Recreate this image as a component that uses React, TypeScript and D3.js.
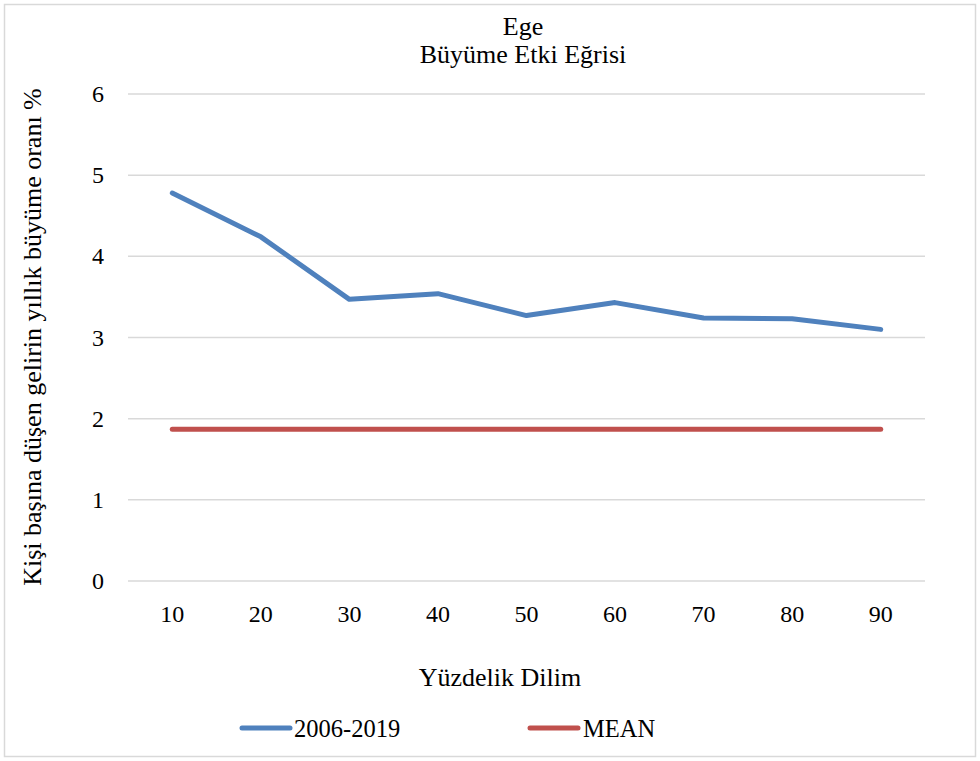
import * as d3 from 'd3';
import * as React from 'react';

const categories = ['10', '20', '30', '40', '50', '60', '70', '80', '90'];
const growthValues = [4.78, 4.24, 3.47, 3.54, 3.27, 3.43, 3.24, 3.23, 3.10];
const meanValues = [1.87, 1.87, 1.87, 1.87, 1.87, 1.87, 1.87, 1.87, 1.87];
const yTicks = [0, 1, 2, 3, 4, 5, 6];

const W = 980;
const H = 761;
const plot = { left: 128, right: 925, top: 94, bottom: 581 };
const font = 'Liberation Serif, Times New Roman, DejaVu Serif, serif';

export default function App() {
    const x = d3.scaleBand<string>()
        .domain(categories)
        .range([plot.left, plot.right]);
    const y = d3.scaleLinear()
        .domain([0, 6])
        .range([plot.bottom, plot.top]);

    const cx = (i: number) => (x(categories[i]) as number) + x.bandwidth() / 2;
    const line = d3.line<number>()
        .x((_, i) => cx(i))
        .y(d => y(d));

    return (
        <div style={{ position: 'absolute', left: 0, top: 0 }}>
            <svg width={W} height={H} style={{ display: 'block' }}>
                <rect x={4.5} y={4.5} width={W - 9} height={H - 9} fill="#fff" stroke="#d9d9d9" strokeWidth={1.5} />
                <text x={523} y={35} textAnchor="middle" fontSize={26} fontFamily={font} fill="#000">Ege</text>
                <text x={523} y={63} textAnchor="middle" fontSize={26} fontFamily={font} fill="#000">Büyüme Etki Eğrisi</text>

                {yTicks.map(t => (
                    <g key={t}>
                        <line x1={plot.left} x2={plot.right} y1={y(t)} y2={y(t)} stroke="#d9d9d9" strokeWidth={1.5} />
                        <text x={104} y={y(t) + 8} textAnchor="end" fontSize={24} fontFamily={font} fill="#000">{t}</text>
                    </g>
                ))}

                {categories.map((c, i) => (
                    <text key={c} x={cx(i)} y={622} textAnchor="middle" fontSize={24} fontFamily={font} fill="#000">{c}</text>
                ))}

                <path d={line(meanValues) || ''} fill="none" stroke="#c0504d" strokeWidth={5} strokeLinecap="round" strokeLinejoin="round" />
                <path d={line(growthValues) || ''} fill="none" stroke="#4f81bd" strokeWidth={5} strokeLinecap="round" strokeLinejoin="round" />

                <text x={500} y={686} textAnchor="middle" fontSize={26} fontFamily={font} fill="#000">Yüzdelik Dilim</text>
                <text transform="translate(41,337) rotate(-90)" textAnchor="middle" fontSize={26} fontFamily={font} fill="#000">
                    Kişi başına düşen gelirin yıllık büyüme oranı %
                </text>

                <line x1={242} x2={290} y1={728} y2={728} stroke="#4f81bd" strokeWidth={5} strokeLinecap="round" />
                <text x={294} y={737} fontSize={24.5} fontFamily={font} fill="#000">2006-2019</text>
                <line x1={530} x2={578} y1={728} y2={728} stroke="#c0504d" strokeWidth={5} strokeLinecap="round" />
                <text x={583} y={737} fontSize={24.5} fontFamily={font} fill="#000">MEAN</text>
            </svg>
        </div>
    );
}
